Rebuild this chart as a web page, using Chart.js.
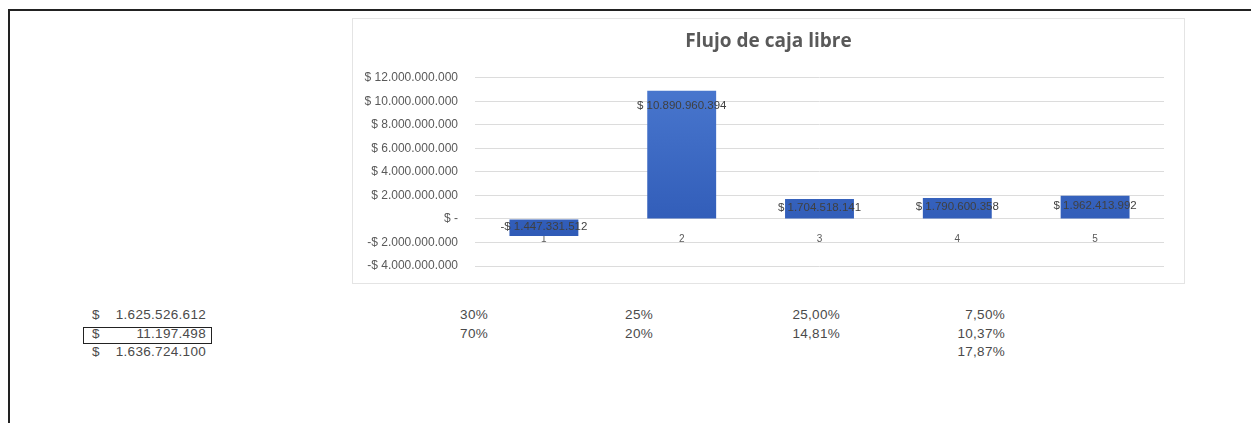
<!DOCTYPE html>
<html>
<head>
<meta charset="utf-8">
<script src="https://cdn.jsdelivr.net/npm/chart.js@4.4.1/dist/chart.umd.min.js"></script>
<style>
  body { margin: 0; background: #fff; width: 1251px; height: 423px; overflow: hidden; position: relative; font-family: "Liberation Sans", Arial, sans-serif; }
  #frame { position: absolute; left: 8px; top: 9px; width: 1260px; height: 430px; border-left: 2px solid #222; border-top: 2px solid #222; }
  #panel { position: absolute; left: 352px; top: 18px; width: 831px; height: 264px; border: 1px solid #e4e4e4; background: #fff; }
  .cell { position: absolute; font-size: 13.5px; color: #4a4a4a; line-height: 16px; white-space: pre; letter-spacing: 0.3px; }
  #boxed { position: absolute; left: 83px; top: 327px; width: 127px; height: 15px; border: 1px solid #222; }
</style>
</head>
<body>
<div id="frame"></div>
<div id="panel"><canvas id="chart" width="831" height="264"></canvas></div>
<div id="boxed"></div>
<div id="cells"></div>
<script>
// chart data
const periods = ["1", "2", "3", "4", "5"];
const flujo = [-1447331512, 10890960394, 1704518141, 1790600358, 1962413992];
const yTicks = [-4000000000, -2000000000, 0, 2000000000, 4000000000, 6000000000, 8000000000, 10000000000, 12000000000];

// sheet cells under the chart
const colMontos = ["1.625.526.612", "11.197.498", "1.636.724.100"];
const colA = ["30%", "70%"];
const colB = ["25%", "20%"];
const colC = ["25,00%", "14,81%"];
const colD = ["7,50%", "10,37%", "17,87%"];

function pesos(v) {
  if (v === 0) return "$ -";
  const s = Math.abs(Math.round(v)).toString().replace(/\B(?=(\d{3})+(?!\d))/g, ".");
  return (v < 0 ? "-$ " : "$ ") + s;
}

function putCol(list, x, y, align) {
  const box = document.getElementById("cells");
  list.forEach((t, i) => {
    const d = document.createElement("div");
    d.className = "cell";
    d.textContent = t;
    d.style.top = (y + i * 18.5) + "px";
    if (align === "right") { d.style.right = (1251 - x) + "px"; } else { d.style.left = x + "px"; }
    box.appendChild(d);
  });
}
putCol(colMontos.map(() => "$"), 92, 307, "left");
putCol(colMontos, 206, 307, "right");
putCol(colA, 488, 307, "right");
putCol(colB, 653, 307, "right");
putCol(colC, 840, 307, "right");
putCol(colD, 1005, 307, "right");

const barLabels = {
  id: "barLabels",
  afterDatasetsDraw(chart) {
    const ctx = chart.ctx;
    const meta = chart.getDatasetMeta(0);
    ctx.save();
    ctx.font = "11.5px 'Liberation Sans', Arial, sans-serif";
    ctx.fillStyle = "#404040";
    ctx.textAlign = "center";
    ctx.textBaseline = "middle";
    meta.data.forEach((bar, i) => {
      const h = Math.abs(bar.base - bar.y);
      let y;
      if (h > 30) y = bar.y + 15;
      else y = (bar.y + bar.base) / 2 - 1;
      ctx.fillText(pesos(flujo[i]), bar.x, y);
    });
    ctx.restore();
  }
};

new Chart("chart", {
  type: "bar",
  data: {
    labels: periods,
    datasets: [{
      data: flujo,
      backgroundColor: (c) => {
        const a = c.chart.chartArea;
        if (!a) return "#3a66c0";
        const g = c.chart.ctx.createLinearGradient(0, a.top, 0, a.bottom);
        g.addColorStop(0, "#4a78cf");
        g.addColorStop(1, "#2a55b2");
        return g;
      },
      barPercentage: 0.5,
      categoryPercentage: 1
    }]
  },
  options: {
    responsive: false,
    animation: false,
    layout: { padding: { left: 0, right: 0, top: 0, bottom: 17 } },
    plugins: {
      legend: { display: false },
      tooltip: { enabled: false },
      title: {
        display: true,
        text: "Flujo de caja libre",
        color: "#595959",
        font: { family: "'Open Sans', sans-serif", size: 19, weight: "bold" },
        padding: { top: 11, bottom: 25 }
      }
    },
    scales: {
      x: {
        position: { y: 0 },
        afterFit: (s) => { s.height = 0; },
        grid: { display: false },
        border: { display: false },
        ticks: { color: "#595959", font: { size: 10 }, padding: 6 }
      },
      y: {
        min: -4000000000,
        max: 12000000000,
        afterBuildTicks: (s) => { s.ticks = yTicks.map(v => ({ value: v })); },
        afterFit: (s) => { s.width = 122; },
        grid: { color: "#dcdcdc", tickLength: 13, tickColor: "rgba(0,0,0,0)" },
        border: { display: false },
        ticks: {
          color: "#595959",
          font: { size: 12 },
          padding: 4,
          callback: (v) => pesos(v)
        }
      },
      yRight: {
        position: "right",
        afterFit: (s) => { s.width = 20; },
        grid: { display: false },
        border: { display: false },
        ticks: { display: false }
      }
    }
  },
  plugins: [barLabels]
});
</script>
</body>
</html>
